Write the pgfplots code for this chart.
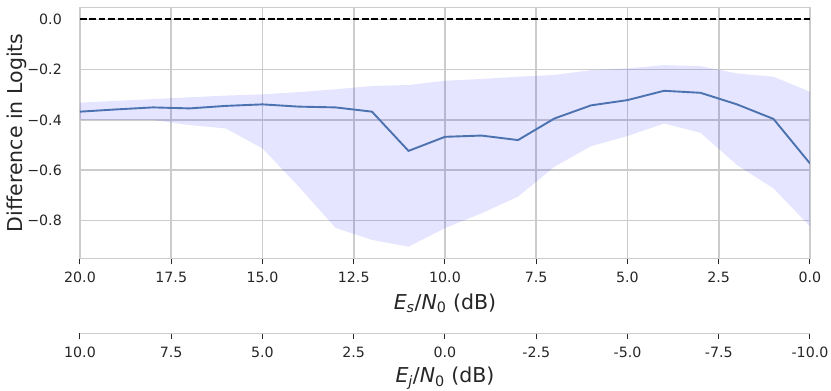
\documentclass[border=0pt]{standalone}
\usepackage{fontspec}
\setmainfont{DejaVu Sans}
\usepackage{pgfplots}
\pgfplotsset{compat=1.18}

\definecolor{gridgray}{HTML}{CCCCCC}
\definecolor{txtgray}{HTML}{262626}
\definecolor{sbblue}{HTML}{4C72B0}

% mean difference, Es/N0 from 20 down to 0
\pgfplotstableread{
x    y
20  -0.367
19  -0.358
18  -0.350
17  -0.354
16  -0.344
15  -0.338
14  -0.347
13  -0.350
12  -0.367
11  -0.523
10  -0.467
9   -0.462
8   -0.480
7   -0.394
6   -0.342
5   -0.321
4   -0.284
3   -0.292
2   -0.338
1   -0.396
0   -0.573
}\meanline

% spread band: upper edge 20 -> 0, then lower edge 0 -> 20
\pgfplotstableread{
x    y
20  -0.331
19  -0.324
18  -0.317
17  -0.310
16  -0.303
15  -0.298
14  -0.289
13  -0.278
12  -0.265
11  -0.261
10  -0.244
9   -0.237
8   -0.228
7   -0.221
6   -0.202
5   -0.195
4   -0.182
3   -0.186
2   -0.215
1   -0.228
0   -0.288
0   -0.823
1   -0.672
2   -0.579
3   -0.451
4   -0.414
5   -0.464
6   -0.504
7   -0.586
8   -0.705
9   -0.771
10  -0.830
11  -0.904
12  -0.877
13  -0.829
14  -0.666
15  -0.513
16  -0.434
17  -0.420
18  -0.400
19  -0.400
20  -0.400
}\band

\begin{document}
\begin{tikzpicture}
\path[use as bounding box] (-80pt,-132.7pt) rectangle (751pt,258.3pt);
\begin{axis}[
    at={(0pt,0pt)}, anchor=south west,
    scale only axis, width=730pt, height=251pt,
    xmin=0, xmax=20, x dir=reverse,
    ymin=-0.95, ymax=0.048,
    xtick={0,2.5,5,7.5,10,12.5,15,17.5,20},
    xticklabels={0.0,2.5,5.0,7.5,10.0,12.5,15.0,17.5,20.0},
    ytick={-0.8,-0.6,-0.4,-0.2,0},
    yticklabels={−0.8,−0.6,−0.4,−0.2,0.0},
    grid=major,
    major grid style={draw=gridgray, line width=1.6pt},
    axis line style={draw=gridgray, line width=1.4pt},
    ytick style={draw=none},
    xtick style={draw=txtgray, line width=1pt},
    tick align=outside, major tick length=6pt,
    xtick pos=bottom, ytick pos=left,
    tick label style={font=\fontsize{14.2}{17}\selectfont, text=txtgray},
    xticklabel style={inner sep=0pt, yshift=-7.5pt},
    yticklabel style={inner sep=0pt, xshift=-12pt},
    xlabel={\textit{E}\textsubscript{\textit{s}}/\textit{N}\textsubscript{0} (dB)},
    ylabel={Difference in Logits},
    every axis x label/.style={at={(axis description cs:0.5,0)}, yshift=-45pt, anchor=center, font=\fontsize{20.5}{24}\selectfont, text=txtgray},
    every axis y label/.style={at={(axis description cs:-0.0863,0.5)}, rotate=90, anchor=center, font=\fontsize{20.5}{24}\selectfont, text=txtgray},
]
\addplot[fill=blue, fill opacity=0.1, draw=none] table {\band};
\addplot[sbblue, line width=1.9pt] table {\meanline};
\addplot[black, line width=2.2pt, dash pattern=on 6.6pt off 2.8pt] coordinates {(20,0) (0,0)};
\end{axis}

\begin{axis}[
    at={(0pt,-75pt)}, anchor=south west,
    scale only axis, width=730pt, height=10pt,
    xmin=-10, xmax=10, x dir=reverse,
    ymin=0, ymax=1,
    hide y axis,
    axis x line*=bottom,
    x axis line style={draw=gridgray, line width=1.4pt, -},
    xtick={-10,-7.5,-5,-2.5,0,2.5,5,7.5,10},
    xticklabels={-10.0,-7.5,-5.0,-2.5,0.0,2.5,5.0,7.5,10.0},
    xtick style={draw=txtgray, line width=1pt},
    tick align=outside, major tick length=6pt,
    tick label style={font=\fontsize{14.2}{17}\selectfont, text=txtgray},
    xticklabel style={inner sep=0pt, yshift=-7.5pt},
    xlabel={\textit{E}\textsubscript{\textit{j}}/\textit{N}\textsubscript{0} (dB)},
    every axis x label/.style={at={(axis description cs:0.5,0)}, yshift=-45pt, anchor=center, font=\fontsize{20.5}{24}\selectfont, text=txtgray},
]
\addplot[draw=none] coordinates {(0,0.5)};
\end{axis}
\end{tikzpicture}
\end{document}
